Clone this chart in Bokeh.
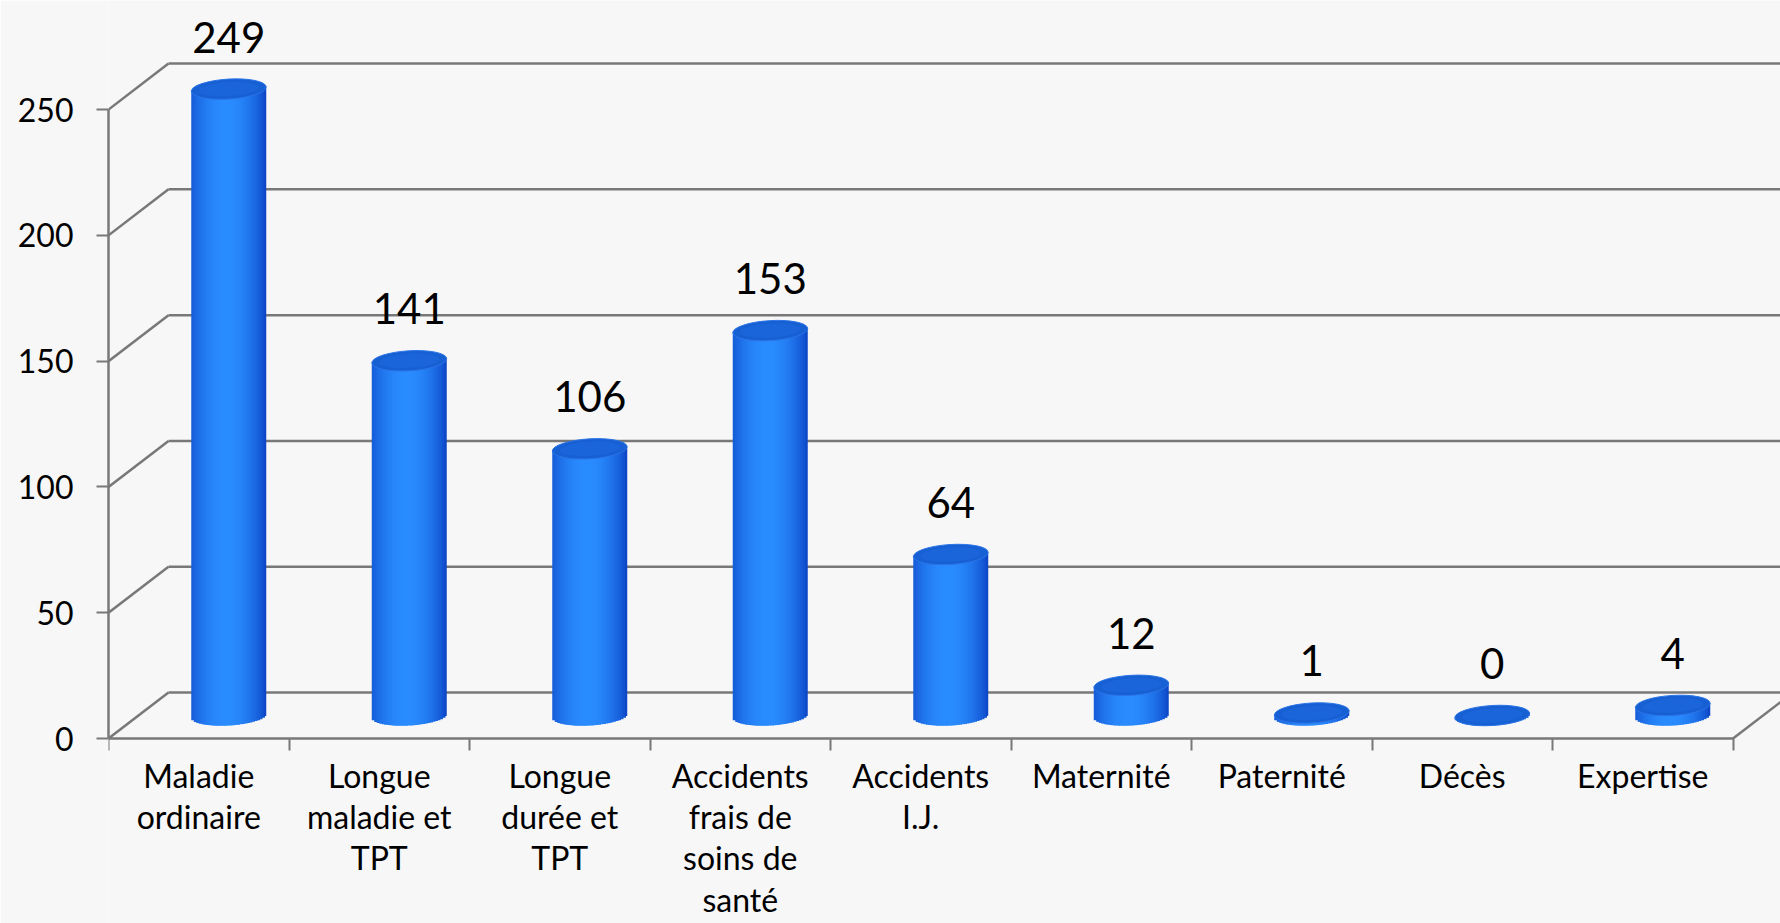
import math
from bokeh.plotting import figure
from bokeh.models import Range1d, FixedTicker, LinearAxis, ColumnDataSource
from bokeh.core.properties import value
from bokeh.embed import file_html
from bokeh.resources import INLINE

# ---------------- data ----------------
categories = [
    "Maladie\nordinaire",
    "Longue\nmaladie et\nTPT",
    "Longue\ndurée et\nTPT",
    "Accidents\nfrais de\nsoins de\nsanté",
    "Accidents\nI.J.",
    "Maternité",
    "Paternité",
    "Décès",
    "Expertise",
]
values = [249, 141, 106, 153, 64, 12, 1, 0, 4]
y_ticks = [0, 50, 100, 150, 200, 250]

# ---------------- geometry / style ----------------
W, H = 1780, 923
LEFT_B = 108
FLOOR_Y = 738           # canvas y of the value 0 (front)
frame_w = W - LEFT_B
PX_CAT = 180.5          # pixels per category
PX_UNIT = 2.5157        # pixels per value unit
x_end = frame_w / PX_CAT
y_start = -(H - FLOOR_Y) / PX_UNIT
y_end = FLOOR_Y / PX_UNIT
DX = 60 / PX_CAT        # depth offset (x)
DY = 46 / PX_UNIT       # depth offset (y)
RX = 37.5 / PX_CAT      # cylinder radius (x, data)
EH = 10.0 / PX_UNIT     # ellipse half height (data)
TILT = 0.06
OVER = 1.2 / PX_CAT     # strip overlap

BG = "#f7f7f7"
GRID = "#787878"
FONT = "Lato"
n = len(categories)

p = figure(width=W, height=H, x_range=Range1d(0, x_end), y_range=Range1d(y_start, y_end),
           output_backend="svg", toolbar_location=None,
           min_border_left=LEFT_B, min_border_right=0, min_border_top=0,
           min_border_bottom=0, x_axis_location=None, y_axis_location=None,
           background_fill_color=BG, border_fill_color=BG, outline_line_color=None)
for g in p.grid:
    g.visible = False

# ---------------- walls / gridlines ----------------
x0s, y0s, x1s, y1s = [], [], [], []
for t in y_ticks:
    x0s.append(DX); y0s.append(t + DY); x1s.append(x_end + 1); y1s.append(t + DY)
    x0s.append(0); y0s.append(t); x1s.append(DX); y1s.append(t + DY)
x0s.append(n); y0s.append(0); x1s.append(n + DX); y1s.append(DY)
p.segment(x0=x0s, y0=y0s, x1=x1s, y1=y1s, line_color=GRID, line_width=2.5)

# ---------------- cylinders ----------------
def shade(u):
    t = max(0.0, math.cos((u + 0.08) * math.pi / 2 * 0.92))
    t = t ** 0.7
    dark = (10, 62, 192)
    light = (42, 140, 255)
    c = [int(d + (l - d) * t) for d, l in zip(dark, light)]
    return "#%02x%02x%02x" % tuple(c)

NS = 30
ql, qr, qb, qt, qc = [], [], [], [], []
cxs, tops = [], []
for i, v in enumerate(values):
    cx = i + 0.5 + DX / 2
    yb = DY / 2
    yt = v + DY / 2
    cxs.append(cx)
    tops.append(yt)
    for k in range(NS):
        u0 = -1 + 2 * k / NS
        u1 = -1 + 2 * (k + 1) / NS
        um = (u0 + u1) / 2
        arc = EH * math.sqrt(max(0.0, 1 - um * um))
        tilt = math.tan(TILT) * um * 37.5 / PX_UNIT
        ql.append(cx + u0 * RX)
        qr.append(cx + u1 * RX + (OVER if k < NS - 1 else 0))
        qb.append(yb - arc + tilt)
        qt.append(yt + tilt)
        qc.append(shade(um))

p.quad(left=ql, right=qr, bottom=qb, top=qt, fill_color=qc, line_color=None)

top_src = ColumnDataSource(dict(x=cxs, y=tops))
p.ellipse(x="x", y="y", width=2 * RX, height=2 * EH, angle=TILT, source=top_src,
          fill_color="#1760d4", line_color="#2a74e6", line_width=1)
p.ellipse(x="x", y="y", width=2 * RX * 0.8, height=2 * EH * 0.7, angle=TILT, source=top_src,
          fill_color="#1c69de", line_color=None, fill_alpha=0.6)

# ---------------- value labels ----------------
lab_src = ColumnDataSource(dict(x=cxs, y=tops, t=[str(v) for v in values]))
p.text(x="x", y="y", text="t", source=lab_src, text_align="center", text_baseline="middle",
       y_offset=-52, text_font=value(FONT), text_font_size="42px", text_color="black")

# ---------------- axes ----------------
yaxis = LinearAxis(ticker=FixedTicker(ticks=y_ticks), bounds=(0, 250))
yaxis.axis_line_color = GRID
yaxis.axis_line_width = 2.5
yaxis.major_tick_out = 12
yaxis.major_tick_in = 0
yaxis.major_tick_line_color = GRID
yaxis.major_tick_line_width = 2
yaxis.minor_tick_line_color = None
yaxis.major_label_standoff = 23
yaxis.major_label_text_font = FONT
yaxis.major_label_text_font_size = "32px"
yaxis.major_label_text_color = "black"
p.add_layout(yaxis, "left")

centers = [i + 0.5 for i in range(n)]
xaxis = LinearAxis(ticker=FixedTicker(ticks=centers, minor_ticks=list(range(n + 1))),
                   bounds=(0, n), fixed_location=0)
xaxis.major_label_overrides = {c: lab for c, lab in zip(centers, categories)}
xaxis.axis_line_color = GRID
xaxis.axis_line_width = 2.5
xaxis.major_tick_out = 0
xaxis.major_tick_in = 0
xaxis.major_tick_line_color = None
xaxis.minor_tick_out = 12
xaxis.minor_tick_in = 0
xaxis.minor_tick_line_color = GRID
xaxis.minor_tick_line_width = 2
xaxis.major_label_standoff = 5
xaxis.major_label_text_font = FONT
xaxis.major_label_text_font_size = "32px"
xaxis.major_label_text_line_height = 1.06
xaxis.major_label_text_color = "black"
p.add_layout(xaxis, "below")

open("out.html", "w").write(file_html(p, INLINE))
